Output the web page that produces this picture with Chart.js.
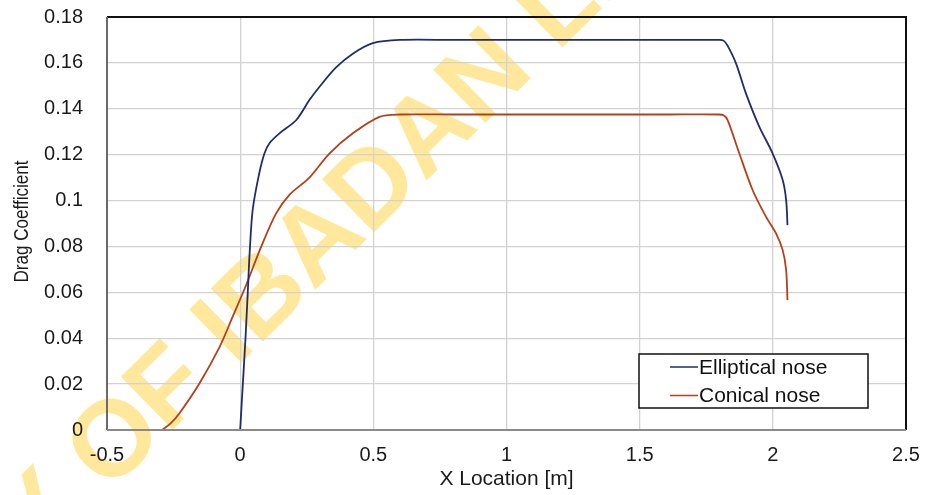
<!DOCTYPE html>
<html>
<head>
<meta charset="utf-8">
<script src="https://cdn.jsdelivr.net/npm/chart.js@4/dist/chart.umd.min.js"></script>
<style>
  html, body { margin: 0; padding: 0; background: #fff; }
  #wrap { width: 937px; height: 495px; }
</style>
</head>
<body>
<div id="wrap"><canvas id="dragChart" width="937" height="495"></canvas></div>
<script>
// values
var ellipticalX = [0, 0.01, 0.02, 0.0285, 0.036, 0.047, 0.07, 0.091, 0.11, 0.1475, 0.21, 0.26, 0.298, 0.36, 0.423, 0.498, 0.6, 0.8, 1.0, 1.2, 1.4, 1.6, 1.8, 1.815, 1.83, 1.862, 1.899, 1.949, 1.999, 2.037, 2.05, 2.055];
var ellipticalY = [0, 0.02, 0.04, 0.06, 0.078, 0.096, 0.111, 0.1205, 0.125, 0.1293, 0.135, 0.1438, 0.1496, 0.158, 0.164, 0.1686, 0.170, 0.170, 0.170, 0.170, 0.170, 0.170, 0.170, 0.1697, 0.1675, 0.1597, 0.1467, 0.1322, 0.1206, 0.109, 0.1002, 0.0893];

var conicalX = [-0.294, -0.26, -0.228, -0.153, -0.078, -0.028, 0.0225, 0.079, 0.135, 0.185, 0.26, 0.335, 0.423, 0.523, 0.6, 0.8, 1.0, 1.2, 1.4, 1.6, 1.8, 1.815, 1.83, 1.874, 1.924, 1.974, 2.012, 2.037, 2.05, 2.055];
var conicalY = [0, 0.003, 0.0073, 0.0203, 0.0360, 0.0494, 0.0632, 0.0799, 0.0944, 0.1025, 0.110, 0.1205, 0.1293, 0.1365, 0.1375, 0.1375, 0.1375, 0.1375, 0.1375, 0.1375, 0.1375, 0.1372, 0.1352, 0.1206, 0.1046, 0.093, 0.0857, 0.0784, 0.0697, 0.0566];

var seriesNames = ['Elliptical nose', 'Conical nose'];
var seriesColors = ['#1f2d6b', '#b3401b'];
var xTicks = [-0.5, 0, 0.5, 1, 1.5, 2, 2.5];
var yTicks = [0, 0.02, 0.04, 0.06, 0.08, 0.1, 0.12, 0.14, 0.16, 0.18];
var yTitle = 'Drag Coefficient';
var watermarkText = 'UNIVERSITY OF IBADAN LIBRARY';

function toPoints(xs, ys) {
	return xs.map(function (x, i) { return { x: x, y: ys[i] }; });
}

var labelFont = { family: "'Liberation Sans', Arial, sans-serif", size: 20 };

// big yellow stamp behind everything
var watermark = {
	id: 'watermark',
	beforeDraw: function (chart) {
		var ctx = chart.ctx;
		ctx.save();
		ctx.fillStyle = '#fff';
		ctx.fillRect(0, 0, chart.width, chart.height);
		ctx.font = "bold 108px 'Liberation Sans', Arial, sans-serif";
		ctx.fillStyle = 'rgb(255, 232, 155)';
		ctx.textBaseline = 'middle';
		ctx.textAlign = 'left';
		var pre = ctx.measureText('UNIVERSITY ').width + ctx.measureText('O').width / 2;
		ctx.translate(117, 443);
		ctx.rotate(-44.5 * Math.PI / 180);
		ctx.fillText(watermarkText, -pre, 0);
		ctx.restore();
	}
};

// frame around the plot, narrow y title and the legend box
var frameAndLegend = {
	id: 'frameAndLegend',
	afterDatasetsDraw: function (chart) {
		var ctx = chart.ctx, a = chart.chartArea;
		ctx.save();
		ctx.lineWidth = 2;
		ctx.strokeStyle = '#111';
		ctx.beginPath();
		ctx.moveTo(a.left, a.top); ctx.lineTo(a.right, a.top); ctx.lineTo(a.right, a.bottom);
		ctx.stroke();
		ctx.strokeStyle = '#6a6a6a';
		ctx.beginPath();
		ctx.moveTo(a.left, a.top); ctx.lineTo(a.left, a.bottom);
		ctx.stroke();
		ctx.strokeStyle = '#8a8a8a';
		ctx.beginPath();
		ctx.moveTo(a.left, a.bottom); ctx.lineTo(a.right, a.bottom);
		ctx.stroke();

		// y title, squeezed like a narrow font
		ctx.save();
		ctx.font = "21px 'Liberation Sans', Arial, sans-serif";
		ctx.fillStyle = '#1a1a1a';
		ctx.textAlign = 'center';
		ctx.textBaseline = 'middle';
		var w = ctx.measureText(yTitle).width;
		ctx.translate(22, (a.top + a.bottom) / 2 - 2);
		ctx.rotate(-Math.PI / 2);
		ctx.scale(122 / w, 1);
		ctx.fillText(yTitle, 0, 0);
		ctx.restore();

		// legend
		var bx = 639, by = 354, bw = 229, bh = 54;
		ctx.fillStyle = '#fff';
		ctx.fillRect(bx, by, bw, bh);
		ctx.lineWidth = 1.5;
		ctx.strokeStyle = '#111';
		ctx.strokeRect(bx, by, bw, bh);
		ctx.font = "21px 'Liberation Sans', Arial, sans-serif";
		ctx.textBaseline = 'middle';
		ctx.textAlign = 'left';
		chart.data.datasets.forEach(function (ds, i) {
			var yy = by + 13 + i * 28.5;
			ctx.strokeStyle = ds.borderColor;
			ctx.lineWidth = 1.5;
			ctx.beginPath();
			ctx.moveTo(670, yy); ctx.lineTo(698, yy);
			ctx.stroke();
			ctx.fillStyle = '#111';
			ctx.fillText(ds.label, 699, yy + 1);
		});
		ctx.restore();
	}
};

new Chart(document.getElementById('dragChart'), {
	type: 'line',
	data: {
		datasets: [{
			label: seriesNames[0],
			data: toPoints(ellipticalX, ellipticalY),
			borderColor: seriesColors[0],
			borderWidth: 1.8,
			pointRadius: 0,
			tension: 0.3,
			fill: false
		}, {
			label: seriesNames[1],
			data: toPoints(conicalX, conicalY),
			borderColor: seriesColors[1],
			borderWidth: 1.8,
			pointRadius: 0,
			tension: 0.3,
			fill: false
		}]
	},
	options: {
		responsive: false,
		animation: false,
		layout: { padding: { top: 17, right: 31, left: 0, bottom: 0 } },
		plugins: {
			legend: { display: false },
			tooltip: { enabled: false }
		},
		scales: {
			x: {
				type: 'linear',
				min: -0.5,
				max: 2.5,
				afterBuildTicks: function (scale) {
					scale.ticks = xTicks.map(function (v) { return { value: v }; });
				},
				afterFit: function (scale) { scale.height = 65; },
				ticks: {
					color: '#1a1a1a',
					font: labelFont,
					padding: 13,
					maxRotation: 0,
					callback: function (v) { return String(+v.toFixed(2)); }
				},
				grid: { color: '#d2d2d2', lineWidth: 1.3, drawTicks: false },
				border: { display: false },
				title: {
					display: true,
					text: 'X Location [m]',
					color: '#1a1a1a',
					font: { family: "'Liberation Sans', Arial, sans-serif", size: 21 },
					padding: { top: 0, bottom: 3 }
				}
			},
			y: {
				min: 0,
				max: 0.18,
				afterBuildTicks: function (scale) {
					scale.ticks = yTicks.map(function (v) { return { value: v }; });
				},
				afterFit: function (scale) {
					scale.width = 107;
					scale.paddingTop = 0;
					scale.paddingBottom = 0;
				},
				ticks: {
					color: '#1a1a1a',
					font: labelFont,
					padding: 24,
					callback: function (v) { return String(+v.toFixed(2)); }
				},
				grid: { color: '#d2d2d2', lineWidth: 1.3, drawTicks: false },
				border: { display: false }
			}
		}
	},
	plugins: [watermark, frameAndLegend]
});
</script>
</body>
</html>
